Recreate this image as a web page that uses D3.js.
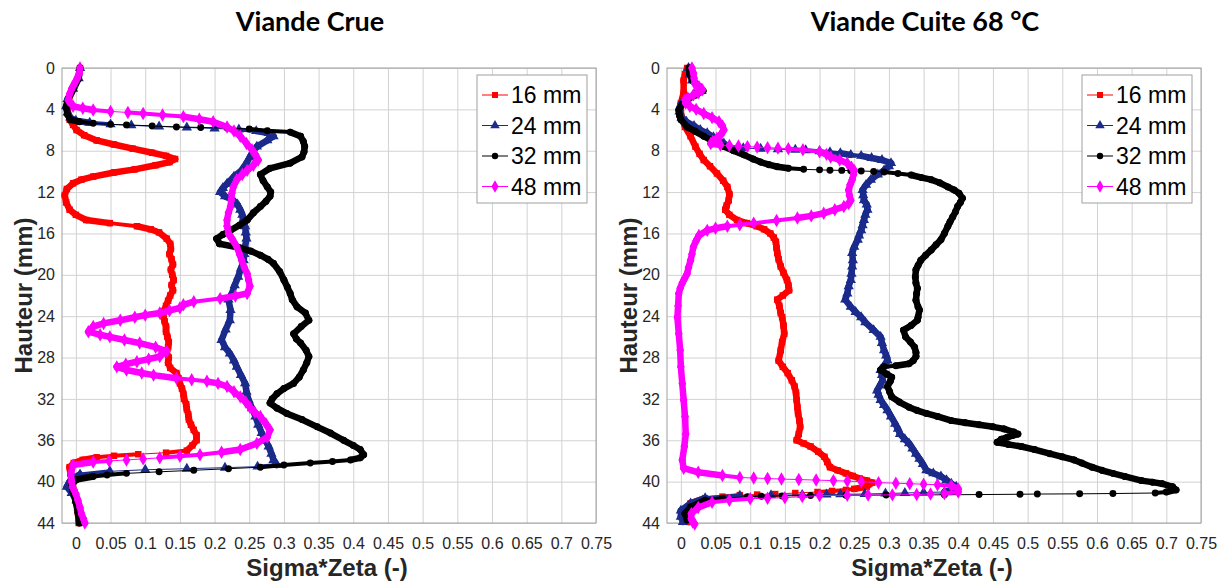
<!DOCTYPE html>
<html><head><meta charset="utf-8">
<script src="https://cdn.jsdelivr.net/npm/d3@7"></script>
<style>body{margin:0;background:#fff}svg{display:block}</style>
</head><body>
<svg id="c" width="1224" height="581"></svg>
<script>
// ---------- DATA ----------
const titles = ["Viande Crue", "Viande Cuite 68 °C"];
const seriesNames = ["16 mm", "24 mm", "32 mm", "48 mm"];
const xTicks = [0,0.05,0.1,0.15,0.2,0.25,0.3,0.35,0.4,0.45,0.5,0.55,0.6,0.65,0.7,0.75];
const yTicks = [0,4,8,12,16,20,24,28,32,36,40,44];
const xLabel = "Sigma*Zeta (-)";
const yLabel = "Hauteur (mm)";
// each point: [hauteur (mm), sigma*zeta]
const crue16 = [[0,0.006],[1,0.003],[2,-0.004],[3,-0.01],[4,-0.012],[5,-0.009],[5.5,-0.004],[6,0.001],[6.5,0.012],[7,0.03],[7.4,0.055],[7.8,0.082],[8.2,0.11],[8.5,0.13],[8.8,0.143],[9.1,0.135],[9.4,0.115],[9.8,0.085],[10.1,0.055],[10.5,0.025],[10.8,0.008],[11.15,-0.004],[11.7,-0.013],[12.3,-0.016],[13,-0.014],[13.7,-0.009],[14.2,0.0],[14.7,0.015],[15.0,0.049],[15.3,0.088],[15.6,0.108],[15.9,0.12],[16.5,0.131],[17,0.136],[17.5,0.137],[18,0.135],[18.5,0.138],[19,0.14],[19.5,0.137],[20,0.139],[20.5,0.141],[21,0.138],[21.5,0.14],[22,0.136],[22.5,0.133],[23,0.13],[23.5,0.127],[24,0.126],[24.5,0.128],[25,0.13],[25.5,0.13],[26,0.132],[26.5,0.134],[27,0.133],[27.5,0.131],[28,0.134],[28.5,0.133],[29,0.136],[29.5,0.145],[30,0.148],[30.5,0.15],[31,0.153],[31.5,0.155],[32,0.156],[32.5,0.159],[33,0.16],[33.5,0.162],[34,0.163],[34.5,0.166],[35,0.17],[35.5,0.174],[36,0.174],[36.5,0.168],[37,0.16],[37.2,0.13],[37.35,0.09],[37.5,0.055],[37.65,0.03],[37.9,0.01],[38.2,-0.003],[38.6,-0.009],[39.2,-0.008],[40,-0.006],[41,-0.002],[42,0.001],[43,0.003],[44,0.004]];
const crue24 = [[0,0.006],[1,0.004],[2,-0.004],[3,-0.012],[3.7,-0.014],[4.3,-0.012],[4.8,-0.008],[5.1,0.0],[5.3,0.02],[5.45,0.05],[5.55,0.08],[5.65,0.12],[5.75,0.16],[5.85,0.2],[5.95,0.235],[6.1,0.26],[6.3,0.278],[6.6,0.285],[7.0,0.276],[7.6,0.261],[8.1,0.255],[8.6,0.251],[9.2,0.246],[9.9,0.239],[10.5,0.228],[11.2,0.218],[11.6,0.212],[12,0.208],[12.4,0.215],[12.8,0.227],[13.2,0.233],[13.7,0.237],[14.2,0.24],[14.7,0.241],[15.3,0.244],[15.9,0.245],[16.5,0.246],[17.3,0.244],[18,0.243],[18.6,0.242],[19.4,0.238],[20.2,0.234],[21,0.229],[21.8,0.225],[22.4,0.22],[23.4,0.223],[24.4,0.222],[25.3,0.216],[26.3,0.21],[27,0.215],[27.6,0.222],[28.3,0.228],[28.9,0.232],[29.7,0.238],[30.5,0.244],[31.3,0.246],[32.1,0.249],[32.9,0.254],[33.7,0.259],[34.5,0.263],[35.3,0.268],[36,0.273],[36.6,0.278],[37.3,0.282],[37.9,0.285],[38.4,0.29],[38.55,0.262],[38.65,0.215],[38.75,0.16],[38.85,0.1],[39,0.049],[39.3,0.006],[39.7,-0.005],[40,-0.009],[40.5,-0.013],[41.1,-0.006],[41.8,0.001],[42.5,0.004],[43.2,0.006],[44,0.008]];
const crue32 = [[0,0.006],[1,0.004],[2,-0.003],[3,-0.011],[3.8,-0.014],[4.5,-0.012],[5.0,-0.008],[5.2,0.005],[5.35,0.025],[5.45,0.05],[5.5,0.073],[5.6,0.11],[5.7,0.145],[5.75,0.18],[5.8,0.218],[5.9,0.25],[6.06,0.276],[6.2,0.309],[6.6,0.324],[7.1,0.328],[7.6,0.33],[8.1,0.329],[8.6,0.326],[9.2,0.309],[9.7,0.28],[10.3,0.266],[10.9,0.27],[11.5,0.276],[12.0,0.281],[12.4,0.28],[12.9,0.274],[13.4,0.266],[14.0,0.256],[14.7,0.247],[15.2,0.236],[15.7,0.223],[16.1,0.212],[16.5,0.203],[17,0.207],[17.4,0.237],[17.7,0.252],[18.1,0.266],[18.5,0.277],[18.9,0.285],[19.7,0.294],[20.5,0.3],[21.2,0.305],[21.8,0.309],[22.4,0.312],[23.1,0.319],[23.7,0.331],[24.4,0.336],[25,0.325],[25.7,0.314],[26.2,0.318],[26.6,0.324],[27.3,0.332],[27.9,0.336],[28.5,0.333],[29.2,0.328],[29.9,0.322],[30.5,0.314],[31,0.3],[31.5,0.29],[32,0.283],[32.4,0.28],[32.9,0.29],[33.4,0.304],[34.0,0.326],[34.7,0.348],[35.3,0.367],[36,0.386],[36.5,0.4],[36.9,0.41],[37.4,0.415],[37.7,0.41],[37.9,0.396],[38.05,0.37],[38.2,0.338],[38.4,0.3],[38.6,0.266],[38.75,0.22],[38.9,0.17],[39.05,0.12],[39.2,0.073],[39.35,0.045],[39.5,0.025],[39.8,0.001],[40.3,-0.006],[41,-0.004],[42,0.0],[43,0.003],[44,0.005]];
const crue48 = [[0,0.006],[0.5,0.005],[1,0.002],[1.5,-0.002],[2,-0.006],[2.5,-0.009],[3.1,-0.011],[3.7,-0.004],[3.9,0.01],[4.06,0.025],[4.2,0.05],[4.3,0.075],[4.4,0.097],[4.55,0.125],[4.7,0.155],[4.95,0.178],[5.2,0.198],[5.7,0.218],[6.1,0.228],[6.6,0.237],[7.3,0.246],[7.9,0.254],[8.4,0.259],[8.9,0.263],[9.4,0.256],[9.9,0.247],[10.3,0.24],[10.8,0.232],[11.5,0.227],[12.1,0.225],[12.8,0.224],[13.4,0.223],[14.0,0.22],[14.7,0.218],[15.3,0.218],[16,0.22],[16.6,0.226],[17.3,0.232],[18,0.236],[18.6,0.239],[19.3,0.243],[19.9,0.247],[20.5,0.249],[21.1,0.251],[21.8,0.247],[22.05,0.23],[22.3,0.208],[22.6,0.17],[22.9,0.155],[23.2,0.15],[23.45,0.135],[23.7,0.121],[23.9,0.1],[24.1,0.085],[24.4,0.064],[24.7,0.04],[25,0.025],[25.5,0.018],[25.8,0.035],[26,0.049],[26.3,0.07],[26.6,0.092],[27,0.115],[27.4,0.131],[27.9,0.121],[28.15,0.105],[28.4,0.088],[28.65,0.072],[28.9,0.059],[29.2,0.073],[29.5,0.095],[29.7,0.112],[30,0.145],[30.15,0.167],[30.3,0.189],[30.5,0.205],[30.8,0.218],[31.3,0.228],[31.8,0.237],[32.3,0.245],[32.8,0.251],[33.3,0.258],[33.7,0.266],[34.4,0.274],[35,0.28],[35.7,0.276],[36.3,0.261],[36.9,0.237],[37.15,0.21],[37.4,0.179],[37.55,0.15],[37.7,0.121],[37.8,0.097],[37.9,0.073],[38.0,0.048],[38.1,0.025],[38.4,-0.004],[39.2,-0.007],[40,-0.006],[40.5,-0.005],[41.2,0.0],[41.8,0.003],[42.5,0.006],[43.1,0.008],[43.6,0.011],[44,0.013]];
const cuite16 = [[0,0.009],[0.6,0.006],[1.2,0.004],[2.4,0.004],[3.4,0.0],[4.4,0.0],[5.0,0.003],[5.7,0.006],[6.6,0.014],[7.6,0.021],[8.3,0.027],[8.9,0.033],[9.5,0.042],[10.2,0.052],[10.9,0.061],[11.5,0.067],[12.2,0.07],[12.8,0.069],[13.3,0.066],[13.7,0.064],[14.2,0.07],[14.7,0.081],[15.0,0.095],[15.3,0.11],[15.6,0.12],[16,0.129],[16.4,0.134],[16.8,0.137],[17.4,0.138],[17.9,0.139],[18.5,0.141],[19.2,0.144],[19.8,0.148],[20.5,0.153],[21,0.155],[21.5,0.156],[22,0.147],[22.4,0.139],[23,0.142],[23.7,0.144],[24.1,0.146],[24.9,0.148],[25.7,0.149],[26.5,0.146],[27.3,0.144],[28.3,0.141],[28.9,0.147],[29.5,0.154],[30.2,0.16],[30.8,0.164],[31.4,0.166],[32.1,0.167],[32.8,0.168],[33.4,0.169],[34.1,0.171],[34.7,0.172],[35.4,0.17],[36,0.167],[36.3,0.177],[36.6,0.187],[37.1,0.198],[37.6,0.207],[38.1,0.211],[38.6,0.215],[38.9,0.226],[39.2,0.238],[39.45,0.248],[39.7,0.258],[39.9,0.268],[40.1,0.276],[40.5,0.268],[40.7,0.25],[40.8,0.238],[40.9,0.218],[41,0.197],[41.1,0.165],[41.2,0.136],[41.25,0.11],[41.3,0.085],[41.45,0.06],[41.6,0.035],[42.1,0.014],[42.6,0.008],[43.1,0.007],[43.5,0.009],[43.9,0.012]];
const cuite24 = [[0,0.011],[0.6,0.013],[1.2,0.016],[1.8,0.026],[2.2,0.03],[2.6,0.02],[3.0,0.008],[3.5,0.0],[4.2,-0.002],[4.8,0.001],[5.2,0.008],[5.6,0.019],[6.0,0.028],[6.3,0.038],[6.7,0.047],[7.0,0.055],[7.3,0.062],[7.6,0.07],[7.75,0.09],[7.8,0.115],[7.85,0.14],[7.9,0.165],[7.95,0.18],[8.05,0.2],[8.15,0.215],[8.25,0.23],[8.4,0.245],[8.5,0.26],[8.7,0.275],[8.9,0.29],[9.2,0.303],[9.5,0.3],[9.9,0.293],[10.3,0.284],[10.8,0.274],[11.3,0.267],[11.8,0.262],[12.3,0.263],[12.8,0.264],[13.2,0.268],[13.7,0.269],[14.2,0.266],[14.7,0.264],[15.2,0.262],[15.7,0.26],[16.2,0.257],[16.6,0.255],[17.3,0.25],[17.9,0.247],[18.6,0.248],[19.2,0.247],[19.9,0.246],[20.5,0.245],[21.1,0.242],[21.8,0.24],[22.4,0.237],[23.1,0.245],[23.6,0.252],[24.1,0.26],[24.6,0.266],[25.35,0.278],[26,0.288],[26.6,0.29],[27.3,0.293],[27.8,0.296],[28.3,0.298],[28.8,0.293],[29.2,0.288],[29.7,0.29],[30.2,0.291],[30.7,0.287],[31.2,0.283],[31.6,0.285],[32.1,0.288],[32.6,0.293],[33.1,0.298],[33.7,0.303],[34.4,0.309],[34.9,0.313],[35.4,0.316],[35.9,0.323],[36.3,0.329],[36.8,0.334],[37.3,0.339],[37.8,0.344],[38.3,0.349],[38.9,0.354],[39.2,0.364],[39.5,0.375],[39.85,0.383],[40.2,0.39],[40.5,0.397],[40.8,0.39],[41.0,0.38],[41.05,0.35],[41.1,0.323],[41.15,0.295],[41.2,0.265],[41.22,0.23],[41.25,0.21],[41.28,0.175],[41.3,0.13],[41.35,0.085],[41.6,0.035],[42.1,0.014],[42.8,0.0],[43.4,0.0],[43.9,0.003]];
const cuite32 = [[0,0.012],[0.6,0.013],[1.2,0.017],[1.8,0.027],[2.2,0.032],[2.6,0.022],[3.0,0.01],[3.5,0.002],[4.06,-0.003],[4.6,-0.002],[5.0,0.0],[5.7,0.009],[6.1,0.02],[6.6,0.033],[7.1,0.047],[7.6,0.062],[8.0,0.076],[8.4,0.091],[8.8,0.104],[9.1,0.115],[9.35,0.127],[9.55,0.139],[9.7,0.155],[9.8,0.177],[9.85,0.2],[9.88,0.215],[9.9,0.232],[9.93,0.245],[9.96,0.26],[10.0,0.278],[10.05,0.293],[10.2,0.313],[10.35,0.332],[10.6,0.347],[10.8,0.361],[11.1,0.373],[11.5,0.385],[11.8,0.394],[12.1,0.401],[12.6,0.406],[13.0,0.403],[13.4,0.399],[13.9,0.396],[14.4,0.392],[14.9,0.388],[15.3,0.385],[16,0.38],[16.6,0.375],[17.1,0.368],[17.6,0.361],[18.1,0.353],[18.6,0.346],[19.1,0.342],[19.5,0.339],[20.2,0.338],[20.8,0.339],[21.3,0.341],[21.8,0.34],[22.45,0.339],[23.1,0.342],[23.4,0.344],[24.1,0.342],[24.4,0.341],[24.9,0.332],[25.35,0.321],[26,0.324],[26.5,0.331],[27,0.337],[27.5,0.339],[27.9,0.339],[28.3,0.335],[28.6,0.329],[28.8,0.31],[28.9,0.293],[29.2,0.288],[29.6,0.297],[29.9,0.304],[30.3,0.302],[30.8,0.298],[31.3,0.301],[31.8,0.304],[32.3,0.315],[32.8,0.329],[33.1,0.34],[33.4,0.354],[33.7,0.37],[34.1,0.39],[34.3,0.41],[34.5,0.43],[34.7,0.45],[34.9,0.466],[35.2,0.48],[35.4,0.486],[35.55,0.478],[35.7,0.471],[35.9,0.462],[36.2,0.456],[36.4,0.472],[36.6,0.491],[36.9,0.51],[37.3,0.532],[37.6,0.55],[37.9,0.567],[38.2,0.578],[38.6,0.593],[38.9,0.607],[39.2,0.623],[39.5,0.64],[39.9,0.664],[40.05,0.68],[40.2,0.694],[40.5,0.709],[40.8,0.714],[41.0,0.7],[41.1,0.684],[41.15,0.623],[41.18,0.575],[41.2,0.514],[41.22,0.489],[41.25,0.43],[41.27,0.38],[41.3,0.296],[41.32,0.238],[41.35,0.187],[41.38,0.146],[41.42,0.116],[41.46,0.096],[41.6,0.06],[41.8,0.035],[42.45,0.014],[43.1,0.006],[43.7,0.009]];
const cuite48 = [[0,0.016],[0.5,0.018],[1.0,0.019],[1.5,0.02],[1.8,0.026],[2.1,0.031],[2.4,0.025],[2.6,0.018],[2.9,0.01],[3.1,0.006],[3.4,0.007],[3.7,0.013],[4.0,0.022],[4.4,0.033],[4.8,0.045],[5.2,0.055],[5.6,0.06],[6.0,0.062],[6.4,0.058],[6.8,0.052],[7.1,0.046],[7.3,0.043],[7.45,0.057],[7.5,0.07],[7.55,0.083],[7.6,0.096],[7.65,0.11],[7.7,0.125],[7.75,0.14],[7.8,0.155],[7.9,0.176],[8.1,0.2],[8.35,0.21],[8.6,0.216],[8.9,0.229],[9.2,0.24],[9.6,0.246],[9.9,0.25],[10.3,0.249],[10.8,0.247],[11.3,0.244],[11.8,0.242],[12.3,0.243],[12.8,0.245],[13.1,0.242],[13.4,0.235],[13.7,0.222],[14.05,0.206],[14.3,0.188],[14.5,0.168],[14.75,0.138],[15,0.105],[15.15,0.085],[15.3,0.067],[15.5,0.05],[15.7,0.038],[16.2,0.026],[16.7,0.022],[17.3,0.018],[18,0.016],[18.6,0.014],[19.3,0.011],[19.9,0.009],[20.4,0.005],[20.8,0.002],[21.3,-0.001],[21.8,-0.003],[23,-0.004],[24.1,-0.005],[25.7,-0.003],[27.3,-0.001],[28.9,0.0],[30.5,0.002],[32.1,0.004],[33.7,0.006],[35.4,0.007],[36.6,0.005],[37.9,0.002],[38.7,0.004],[39.1,0.025],[39.4,0.06],[39.6,0.085],[39.65,0.105],[39.7,0.125],[39.75,0.145],[39.8,0.17],[39.85,0.195],[39.9,0.22],[39.95,0.24],[40.0,0.26],[40.1,0.285],[40.15,0.31],[40.2,0.33],[40.25,0.35],[40.3,0.37],[40.4,0.39],[40.7,0.4],[41.0,0.4],[41.15,0.38],[41.2,0.36],[41.25,0.34],[41.28,0.305],[41.3,0.27],[41.32,0.24],[41.35,0.2],[41.45,0.175],[41.55,0.15],[41.6,0.125],[41.65,0.1],[41.8,0.07],[42,0.045],[42.5,0.025],[43.1,0.015],[43.6,0.015],[43.9,0.017],[44.1,0.02]];

// ---------- STYLE / LAYOUT ----------
const colors = ["#ff0000", "#1a2b8c", "#000000", "#ff00ff"];
const symbols = [d3.symbolSquare, d3.symbolTriangle, d3.symbolCircle, d3.symbolDiamond];
const symSizes = [42, 46, 38, 52];
const panels = [
  {title: titles[0], series: [crue16, crue24, crue32, crue48], x0: 62, titleX: 310, legendX: 477},
  {title: titles[1], series: [cuite16, cuite24, cuite32, cuite48], x0: 667, titleX: 925, legendX: 1082}
];
const PW = 534, yTop = 68, yBot = 523;
const svg = d3.select("#c");
const font = "'Liberation Sans', Arial, sans-serif";

panels.forEach(p => {
  const g = svg.append("g");
  const x = d3.scaleLinear().domain([-0.02, 0.75]).range([p.x0, p.x0 + PW]);
  const y = d3.scaleLinear().domain([0, 44]).range([yTop, yBot]);

  // grid
  g.append("g").attr("transform", `translate(0,${yBot})`)
    .call(d3.axisBottom(x).tickValues(xTicks).tickSize(-(yBot - yTop)).tickFormat(""))
    .call(a => a.select(".domain").remove())
    .call(a => a.selectAll("line").attr("stroke", "#d2d2d2").attr("stroke-width", 1));
  g.append("g").attr("transform", `translate(${p.x0},0)`)
    .call(d3.axisLeft(y).tickValues(yTicks).tickSize(-PW).tickFormat(""))
    .call(a => a.select(".domain").remove())
    .call(a => a.selectAll("line").attr("stroke", "#d2d2d2").attr("stroke-width", 1));

  // frame
  g.append("rect").attr("x", p.x0).attr("y", yTop).attr("width", PW).attr("height", yBot - yTop)
    .attr("fill", "none").attr("stroke", "#a0a0a0").attr("stroke-width", 1);

  // tick labels
  g.append("g").attr("transform", `translate(0,${yBot})`)
    .call(d3.axisBottom(x).tickValues(xTicks).tickSize(0).tickPadding(15).tickFormat(d => d3.format("~g")(d)))
    .call(a => a.select(".domain").remove())
    .call(a => a.selectAll("text").attr("font-family", font).attr("font-size", 16).attr("fill", "#262626"));
  g.append("g").attr("transform", `translate(${p.x0},0)`)
    .call(d3.axisLeft(y).tickValues(yTicks).tickSize(0).tickPadding(7))
    .call(a => a.select(".domain").remove())
    .call(a => a.selectAll("text").attr("font-family", font).attr("font-size", 16).attr("fill", "#262626"));

  // axis labels
  g.append("text").attr("x", p.x0 + PW / 2 - 2).attr("y", 576).attr("text-anchor", "middle")
    .attr("font-family", font).attr("font-weight", "bold").attr("font-size", 24).attr("fill", "#262626").text(xLabel);
  g.append("text").attr("transform", `translate(${p.x0 - 30},${(yTop + yBot) / 2}) rotate(-90)`)
    .attr("text-anchor", "middle").attr("font-family", font).attr("font-weight", "bold")
    .attr("font-size", 24).attr("fill", "#262626").text(yLabel);
  // title
  g.append("text").attr("x", p.titleX).attr("y", 31).attr("text-anchor", "middle")
    .attr("font-family", "Lato, 'Open Sans', sans-serif").attr("font-weight", "bold").attr("font-size", 27)
    .attr("fill", "#000").text(p.title);

  // series
  p.series.forEach((s, i) => {
    const sg = g.append("g");
    for (let k = 0; k < s.length - 1; k++) {
      const ax = x(s[k][1]), ay = y(s[k][0]), bx = x(s[k+1][1]), by = y(s[k+1][0]);
      const dx = Math.abs(bx - ax), dy = Math.abs(by - ay);
      const r = dx / Math.max(dy, 0.01);
      const w = r < 8 ? 6.5 : (r < 16 ? 4 : 1);
      sg.append("line").attr("x1", ax).attr("y1", ay).attr("x2", bx).attr("y2", by)
        .attr("stroke", colors[i]).attr("stroke-width", w)
        .attr("stroke-linecap", "round");
    }
    sg.selectAll("path.m").data(s).join("path").attr("class", "m")
      .attr("transform", d => `translate(${x(d[1])},${y(d[0])})`)
      .attr("d", d3.symbol().type(symbols[i]).size(symSizes[i]))
      .attr("fill", colors[i]);
  });

  // legend
  const lg = g.append("g").attr("transform", `translate(${p.legendX},75)`);
  lg.append("rect").attr("width", 110).attr("height", 128).attr("fill", "#fff")
    .attr("stroke", "#a0a0a0").attr("stroke-width", 1);
  seriesNames.forEach((n, i) => {
    const cy = 20 + i * 30.5;
    lg.append("line").attr("x1", 5).attr("x2", 31).attr("y1", cy).attr("y2", cy)
      .attr("stroke", colors[i]).attr("stroke-width", 1);
    lg.append("path").attr("transform", `translate(18,${cy})`)
      .attr("d", d3.symbol().type(symbols[i]).size(symSizes[i] * 0.85)).attr("fill", colors[i]);
    lg.append("text").attr("x", 34).attr("y", cy + 8).attr("font-family", font)
      .attr("font-size", 23).attr("fill", "#000").text(n);
  });
});
</script>
</body></html>
